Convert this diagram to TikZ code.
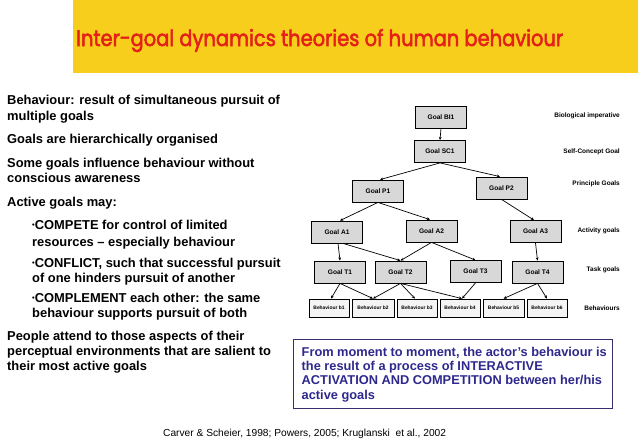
\documentclass[tikz,border=0pt]{standalone}
\usepackage{fontspec}
\usepackage{graphicx}
\setmainfont{Liberation Sans}
\newfontfamily\titlefont{Poppins}[FakeBold=2.5]
\usetikzlibrary{arrows.meta}
\definecolor{ttlred}{RGB}{228,32,24}
\definecolor{ttlyel}{RGB}{248,206,28}
\definecolor{msgblue}{RGB}{46,40,140}
\definecolor{msgframe}{RGB}{58,45,110}
\definecolor{goalgray}{RGB}{216,216,216}
\definecolor{behgray}{RGB}{244,244,244}
\tikzset{
 goal/.style={draw=black, fill=goalgray, line width=0.8pt, minimum width=51pt, minimum height=22pt, inner sep=0pt, font=\fontsize{6.6}{7}\selectfont\bfseries},
 beh/.style={draw=black, fill=behgray, line width=0.8pt, minimum width=40pt, minimum height=18pt, inner sep=0pt, font=\fontsize{4.9}{5}\selectfont\bfseries},
 lvl/.style={anchor=east, inner sep=0pt, font=\fontsize{6.5}{7}\selectfont\bfseries},
 arr/.style={-{Stealth[length=3.2pt,width=2.8pt]}, line width=0.7pt},
 lt/.style={anchor=base west, inner sep=0pt, font=\fontsize{12.9}{15}\selectfont\bfseries},
}
\newcommand{\mybul}{\raisebox{1.8pt}{\fontsize{7.5}{7.5}\selectfont\textbullet}}
\begin{document}
\begin{tikzpicture}[x=1pt,y=-1pt]
\path[use as bounding box] (0,0) rectangle (638,442);
% banner
\node[fill=ttlyel, minimum width=565pt, minimum height=73pt, inner sep=0pt, anchor=north west] (banner) at (73,0) {};
\node[anchor=base west, inner sep=0pt, text=ttlred] (title) at (76,46)
 {\resizebox{487pt}{17pt}{\titlefont Inter-goal dynamics theories of human behaviour}};
% left text
\node[lt] (l1) at (7,104.5) {Behaviour: result of simultaneous pursuit of};
\node[lt] (l2) at (7,120.5) {multiple goals};
\node[lt] (l3) at (7,143.5) {Goals are hierarchically organised};
\node[lt] (l4) at (7,167.5) {Some goals influence behaviour without};
\node[lt] (l5) at (7,182.5) {conscious awareness};
\node[lt] (l6) at (7,206.5) {Active goals may:};
\node[lt] (l7) at (32,229.5) {\mybul COMPETE for control of limited};
\node[lt] (l8) at (32,246.5) {resources -- especially behaviour};
\node[lt] (l9) at (32,267.5) {\mybul CONFLICT, such that successful pursuit};
\node[lt] (l10) at (32,282.5) {of one hinders pursuit of another};
\node[lt] (l11) at (32,302.5) {\mybul COMPLEMENT each other: the same};
\node[lt] (l12) at (32,317.5) {behaviour supports pursuit of both};
\node[lt] (l13) at (7,340.5) {People attend to those aspects of their};
\node[lt] (l14) at (7,355.5) {perceptual environments that are salient to};
\node[lt] (l15) at (7,370.5) {their most active goals};
% goal hierarchy
\node[goal] (bi1) at (441,117) {Goal BI1};
\node[goal] (sc1) at (440,151.5) {Goal SC1};
\node[goal] (p1) at (378,191) {Goal P1};
\node[goal] (p2) at (501.5,188) {Goal P2};
\node[goal] (a1) at (337,232) {Goal A1};
\node[goal] (a2) at (431.5,231) {Goal A2};
\node[goal] (a3) at (535.5,231.5) {Goal A3};
\node[goal] (t1) at (340,272) {Goal T1};
\node[goal] (t2) at (400.5,272) {Goal T2};
\node[goal] (t3) at (475.5,271.5) {Goal T3};
\node[goal] (t4) at (537.5,272) {Goal T4};
\node[beh] (b1) at (329,308) {Behaviour b1};
\node[beh, minimum width=42pt] (b2) at (373,308) {Behaviour b2};
\node[beh] (b3) at (417,308) {Behaviour b3};
\node[beh] (b4) at (460,308) {Behaviour b4};
\node[beh, minimum width=41pt] (b5) at (503.5,308) {Behaviour b5};
\node[beh] (b6) at (547,308) {Behaviour b6};
% level labels
\node[lvl] (lv1) at (620,116) {Biological imperative};
\node[lvl] (lv2) at (620,152) {Self-Concept Goal};
\node[lvl] (lv3) at (620,184) {Principle Goals};
\node[lvl] (lv4) at (620,231) {Activity goals};
\node[lvl] (lv5) at (620,270) {Task goals};
\node[lvl] (lv6) at (620,308) {Behaviours};
% arrows
\draw[arr] (bi1.south) -- (sc1.north);
\draw[arr] (sc1.south) -- ([xshift=2pt]p1.north);
\draw[arr] (sc1.south) -- ([xshift=-1.5pt]p2.north);
\draw[arr] (p1.south) -- ([xshift=3pt]a1.north);
\draw[arr] (p1.south) -- ([xshift=-1.5pt]a2.north);
\draw[arr] (p2.south) -- ([xshift=-1.5pt]a3.north);
\draw[arr] ([xshift=1pt]a1.south) -- (t1.north);
\draw[arr] ([xshift=6pt]a1.south) -- (t2.north);
\draw[arr] (a2.south) -- (t2.north);
\draw[arr] (a2.south) -- (t3.north);
\draw[arr] (a3.south) -- (t4.north);
\draw[arr] (t1.south) -- ([xshift=2pt]b1.north);
\draw[arr] (t1.south) -- (b2.north);
\draw[arr] (t2.south) -- (b2.north);
\draw[arr] (t2.south) -- ([xshift=-2pt]b3.north);
\draw[arr] (t2.south) -- ([xshift=2pt]b4.north);
\draw[arr] (t3.south) -- ([xshift=2pt]b4.north);
\draw[arr] (t4.south) -- (b5.north);
\draw[arr] (t4.south) -- (b6.north);
% message box
\node[draw=msgframe, line width=1pt, minimum width=319pt, minimum height=69pt, inner sep=0pt] (msg) at (452.5,373.5) {};
\node[anchor=west, inner sep=0pt, align=left, text=msgblue, font=\fontsize{12.8}{14.3}\selectfont\bfseries] (msgtxt) at ([xshift=9pt,yshift=-1pt]msg.west)
 {From moment to moment, the actor's behaviour is\\ the result of a process of INTERACTIVE\\ ACTIVATION AND COMPETITION between her/his\\ active goals};
% citation
\node[anchor=base west, inner sep=0pt, font=\fontsize{10.2}{12}\selectfont] (cite) at (163,436.5)
 {Carver \& Scheier, 1998; Powers, 2005; Kruglanski\ \ et al., 2002};
\end{tikzpicture}
\end{document}
